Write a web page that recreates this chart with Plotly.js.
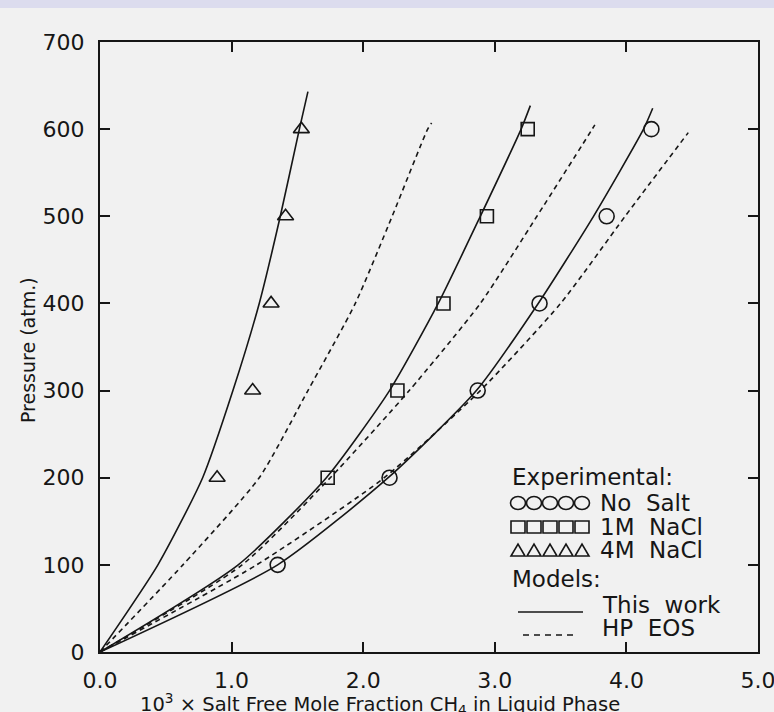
<!DOCTYPE html>
<html>
<head>
<meta charset="utf-8">
<script src="https://cdn.plot.ly/plotly-3.0.1.min.js"></script>
<style>
html,body{margin:0;padding:0;background:#f1f1f1;}
#chart{width:774px;height:712px;}
</style>
</head>
<body>
<div id="chart"></div>
<script>
// ---- data ----
const xTickVals = [0, 1, 2, 3, 4, 5];
const xTickText = ["0.0", "1.0", "2.0", "3.0", "4.0", "5.0"];
const yTickVals = [0, 100, 200, 300, 400, 500, 600, 700];

// experimental points
const noSaltX = [1.35, 2.20, 2.87, 3.34, 3.85, 4.19];
const noSaltY = [100, 200, 300, 400, 500, 600];
const nacl1X = [1.73, 2.26, 2.61, 2.94, 3.25];
const nacl1Y = [200, 300, 400, 500, 600];
const nacl4X = [0.89, 1.16, 1.30, 1.41, 1.53];
const nacl4Y = [200, 300, 400, 500, 600];

// model curves: "This work" (solid)
const work4X = [0, 0.44, 0.78, 1.01, 1.21, 1.37, 1.515, 1.58];
const work4Y = [0, 100, 200, 300, 400, 500, 600, 643];
const work1X = [0, 1.05, 1.72, 2.20, 2.57, 2.89, 3.20, 3.27];
const work1Y = [0, 100, 200, 300, 400, 500, 600, 627];
const work0X = [0, 1.35, 2.19, 2.86, 3.33, 3.75, 4.13, 4.20];
const work0Y = [0, 100, 200, 300, 400, 500, 600, 624];
// model curves: "HP EOS" (dashed)
const hp4X = [0, 0.63, 1.21, 1.58, 1.94, 2.22, 2.49, 2.52];
const hp4Y = [0, 100, 200, 300, 400, 500, 600, 607];
const hp1X = [0, 1.08, 1.75, 2.35, 2.89, 3.32, 3.74, 3.76];
const hp1Y = [0, 100, 200, 300, 400, 500, 600, 605];
const hp0X = [0, 1.19, 2.16, 2.89, 3.50, 3.99, 4.47];
const hp0Y = [0, 100, 200, 300, 400, 500, 596];

// ---- drawing ----
const INK = '#161616';
const FONT = 'DejaVu Sans';
const W = 774, H = 712, ML = 100, MR = 16, MT = 42, MB = 60;
const PW = W - ML - MR, PH = H - MT - MB;
const px = v => (v - ML) / PW;          // pixel -> paper x
const py = v => (H - MB - v) / PH;      // pixel -> paper y

function curve(x, y, dash) {
  return {x: x, y: y, type: 'scatter', mode: 'lines',
    line: {color: INK, width: 1.6, dash: dash, shape: 'spline', smoothing: 0.6},
    hoverinfo: 'skip', showlegend: false};
}
function pts(x, y, sym, size) {
  return {x: x, y: y, type: 'scatter', mode: 'markers',
    marker: {symbol: sym, size: size, color: INK, line: {color: INK, width: 1.6}},
    showlegend: false};
}

const traces = [
  curve(work4X, work4Y, 'solid'),
  curve(work1X, work1Y, 'solid'),
  curve(work0X, work0Y, 'solid'),
  curve(hp4X, hp4Y, '5px,4px'),
  curve(hp1X, hp1Y, '5px,4px'),
  curve(hp0X, hp0Y, '5px,4px'),
  pts(noSaltX, noSaltY, 'circle-open', 15),
  pts(nacl1X, nacl1Y, 'square-open', 13),
  pts(nacl4X, nacl4Y, 'triangle-up-open', 14)
];

// legend symbols as shapes (paper coords)
const shapes = [];
shapes.push({type: 'rect', xref: 'paper', yref: 'paper', x0: px(0), x1: px(W), y0: py(8), y1: py(0),
  fillcolor: '#dcdcee', line: {width: 0}, layer: 'below'});
for (let i = 0; i < 5; i++) {
  const cx = 518 + 16 * i;
  shapes.push({type: 'circle', xref: 'paper', yref: 'paper',
    x0: px(cx - 7.5), x1: px(cx + 7.5), y0: py(503 + 6.5), y1: py(503 - 6.5),
    line: {color: INK, width: 1.6}});
  shapes.push({type: 'rect', xref: 'paper', yref: 'paper',
    x0: px(cx - 7), x1: px(cx + 7), y0: py(527 + 6), y1: py(527 - 6),
    line: {color: INK, width: 1.6}});
  shapes.push({type: 'path', xref: 'paper', yref: 'paper',
    path: `M ${px(cx - 7)} ${py(556)} L ${px(cx + 7)} ${py(556)} L ${px(cx)} ${py(544)} Z`,
    line: {color: INK, width: 1.6}});
}
shapes.push({type: 'line', xref: 'paper', yref: 'paper', x0: px(518), x1: px(583), y0: py(612), y1: py(612),
  line: {color: INK, width: 1.6}});
shapes.push({type: 'line', xref: 'paper', yref: 'paper', x0: px(523), x1: px(575), y0: py(635), y1: py(635),
  line: {color: INK, width: 1.6, dash: '6px,5px'}});

function note(text, x, y, size, extra) {
  return Object.assign({text: text, xref: 'paper', yref: 'paper', x: px(x), y: py(y),
    xanchor: 'left', yanchor: 'middle', showarrow: false,
    font: {family: FONT, size: size, color: INK}}, extra || {});
}
const annotations = [
  note('Experimental:', 510, 477, 23),
  note('No  Salt', 598, 503, 23),
  note('1M  NaCl', 598, 527, 23),
  note('4M  NaCl', 598, 550, 23),
  note('Models:', 510, 579, 23),
  note('This  work', 600, 605, 23),
  note('HP  EOS', 600, 628, 23),
  note('10<sup>3</sup> × Salt Free Mole Fraction CH<sub>4</sub> in Liquid Phase', 380, 704, 19.5,
    {xanchor: 'center'}),
  note('Pressure (atm.)', 28, 350, 19, {xanchor: 'center', textangle: -90})
];

const axisCommon = {
  showline: true, linewidth: 2, linecolor: INK, mirror: 'ticks',
  ticks: 'inside', ticklen: 10, tickwidth: 2, tickcolor: INK,
  showgrid: false, zeroline: false, ticklabeloverflow: 'allow',
  tickfont: {family: FONT, size: 22, color: INK}
};

const layout = {
  width: W, height: H,
  margin: {l: ML, r: MR, t: MT, b: MB},
  paper_bgcolor: '#f1f1f1', plot_bgcolor: '#f1f1f1',
  showlegend: false,
  xaxis: Object.assign({}, axisCommon, {range: [0, 5], tickvals: xTickVals, ticktext: xTickText,
    ticklabelstandoff: 8}),
  yaxis: Object.assign({}, axisCommon, {range: [0, 700], tickvals: yTickVals,
    ticklabelstandoff: 9}),
  shapes: shapes,
  annotations: annotations
};

Plotly.newPlot('chart', traces, layout, {displayModeBar: false, staticPlot: true});
</script>
</body>
</html>
